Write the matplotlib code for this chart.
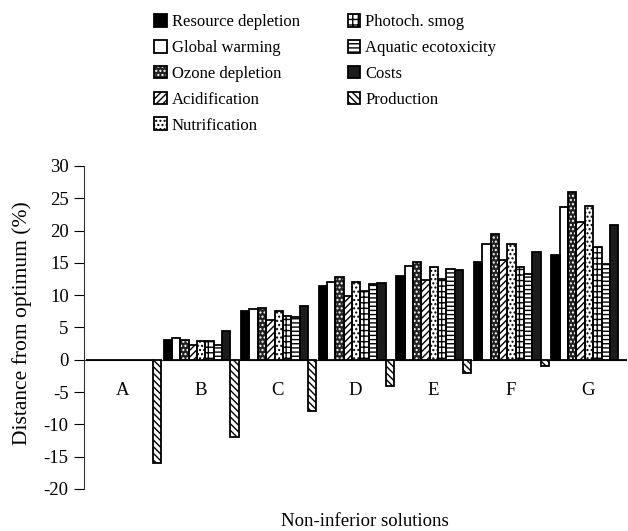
import numpy as np
import matplotlib
matplotlib.use("Agg")
import matplotlib.pyplot as plt
from matplotlib.patches import Patch

plt.rcParams['font.family'] = ['Liberation Serif', 'DejaVu Serif']
plt.rcParams['axes.unicode_minus'] = False
plt.rcParams['hatch.linewidth'] = 1.0

categories = ["A", "B", "C", "D", "E", "F", "G"]
series_names = ["Resource depletion", "Global warming", "Ozone depletion",
                "Acidification", "Nutrification", "Photoch. smog",
                "Aquatic ecotoxicity", "Costs", "Production"]

resource_depletion = [0, 3.0, 7.5, 11.5, 13.0, 15.2, 16.2]
global_warming     = [0, 3.3, 7.9, 12.1, 14.5, 18.0, 23.6]
ozone_depletion    = [0, 3.1, 8.0, 12.8, 15.2, 19.4, 25.9]
acidification      = [0, 2.3, 6.2, 9.8, 12.4, 15.5, 21.3]
nutrification      = [0, 2.9, 7.6, 12.0, 14.3, 18.0, 23.8]
photoch_smog       = [0, 2.9, 6.8, 10.6, 12.5, 14.3, 17.4]
aquatic_ecotox     = [0, 2.3, 6.6, 11.8, 14.0, 13.3, 14.9]
costs              = [0, 4.4, 8.3, 11.9, 13.9, 16.7, 20.8]
production         = [-16, -12, -8, -4, -2, -1, 0]

yticks = [-20, -15, -10, -5, 0, 5, 10, 15, 20, 25, 30]

series = [resource_depletion, global_warming, ozone_depletion, acidification,
          nutrification, photoch_smog, aquatic_ecotox, costs, production]

# style: (facecolor, hatchcolor, hatch)
styles = [("black", None, None),
          ("white", None, None),
          ("#222222", "white", "...."),
          ("white", "black", "/////"),
          ("white", "black", "...."),
          ("white", "black", "+++"),
          ("white", "black", "----"),
          ("#1c1c1c", None, None),
          ("white", "black", "\\\\\\\\\\")]

W, H = 628, 531
fig = plt.figure(figsize=(W / 100, H / 100), dpi=100)
ax = fig.add_axes([84 / W, 1 - 489 / H, (627 - 84) / W, (489 - 166) / H])

x = np.arange(len(categories))
n = len(series)
gw = 0.97
bw = gw / n
handles = []
for i, (vals, (fc, hc, hatch)) in enumerate(zip(series, styles)):
    pos = x - gw / 2 + bw * (i + 0.5) + 0.01
    if hatch is not None:
        ax.bar(pos, vals, bw, color=fc, edgecolor=hc, hatch=hatch, linewidth=0, zorder=2)
        p1 = Patch(facecolor=fc, edgecolor=hc, hatch=hatch, linewidth=0)
    else:
        ax.bar(pos, vals, bw, color=fc, linewidth=0, zorder=2)
        p1 = Patch(facecolor=fc, linewidth=0)
    ax.bar(pos, vals, bw, fill=False, edgecolor='black', linewidth=1.3, zorder=3)
    p2 = Patch(fill=False, edgecolor='black', linewidth=1.3)
    handles.append((p1, p2))

ax.set_xlim(-0.5, len(categories) - 0.5)
ax.set_ylim(-20, 30)
ax.set_yticks(yticks)
ax.set_yticklabels([str(t) for t in yticks], fontsize=13.5)
ax.tick_params(axis='y', direction='out', length=7, width=0.8, pad=4)
ax.set_xticks([])
for s in ['top', 'right', 'bottom']:
    ax.spines[s].set_visible(False)
ax.spines['left'].set_color('#333333')
ax.spines['left'].set_linewidth(0.8)
ax.axhline(0, color='#333333', linewidth=0.8, zorder=1)

for xi, c in zip(x, categories):
    ax.text(xi, -4.8, c, ha='center', va='center', fontsize=13.5)

fig.text(22 / W, 1 - 323 / H, "Distance from optimum (%)", rotation=90,
         ha='center', va='center', fontsize=15.5)
fig.text(365 / W, 1 - 521 / H, "Non-inferior solutions", ha='center',
         va='center', fontsize=13.5)

leg = fig.legend(handles, series_names, ncol=2, frameon=False,
                 loc='upper left', bbox_to_anchor=(154 / W, 1 - 14 / H),
                 fontsize=12, handlelength=0.75, handleheight=0.8,
                 handletextpad=0.3, labelspacing=0.58, columnspacing=2.9,
                 borderpad=0, borderaxespad=0)

fig.savefig("out.png", dpi=100)
